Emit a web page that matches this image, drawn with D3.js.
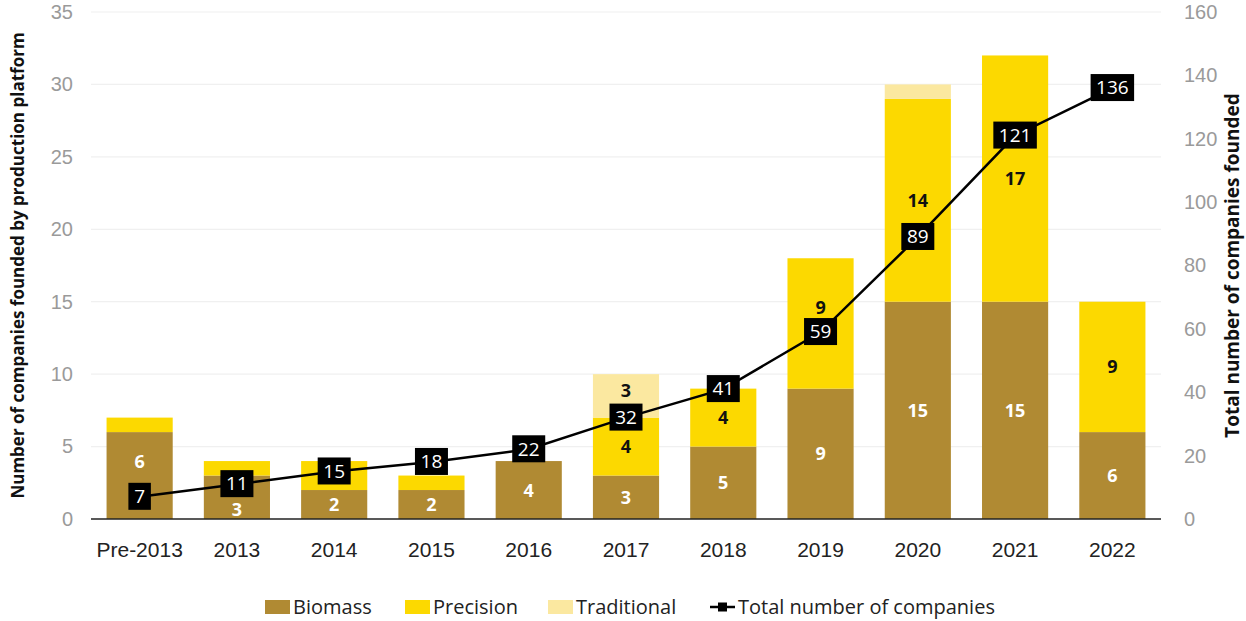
<!DOCTYPE html>
<html>
<head>
<meta charset="utf-8">
<script src="https://cdn.jsdelivr.net/npm/d3@7/dist/d3.min.js"></script>
<style>
  html, body { margin: 0; padding: 0; background: #fff; }
  svg { display: block; font-family: "Open Sans", "Noto Sans", sans-serif; }
</style>
</head>
<body>
<svg id="chart" width="1246" height="621"></svg>
<script>
// Companies founded per year, split by production platform
const categories = ["Pre-2013", "2013", "2014", "2015", "2016", "2017", "2018", "2019", "2020", "2021", "2022"];
const biomass     = [6, 3, 2, 2, 4, 3, 5, 9, 15, 15, 6];
const precision   = [1, 1, 2, 1, 0, 4, 4, 9, 14, 17, 9];
const traditional = [0, 0, 0, 0, 0, 3, 0, 0, 1, 0, 0];
const totalCompanies = [7, 11, 15, 18, 22, 32, 41, 59, 89, 121, 136];
const leftTicks  = [0, 5, 10, 15, 20, 25, 30, 35];
const rightTicks = [0, 20, 40, 60, 80, 100, 120, 140, 160];

const seriesDefs = [
  { key: "Biomass",     values: biomass,     color: "#b08a33", text: "#ffffff", minLabel: 2 },
  { key: "Precision",   values: precision,   color: "#fcd900", text: "#111111", minLabel: 4 },
  { key: "Traditional", values: traditional, color: "#fbe8a0", text: "#111111", minLabel: 3 }
];

// a few segment labels are shifted (px) so they stay clear of the total-line markers
const labelNudge = { "Biomass|Pre-2013": -14, "Biomass|2013": 12, "Precision|2019": -16, "Traditional|2017": -5 };

const svg = d3.select("#chart");
const margin = { left: 91, right: 85, top: 12, bottom: 102 };
const W = 1246, H = 621;
const innerRight = W - margin.right;
const innerBottom = H - margin.bottom;

const x = d3.scaleBand().domain(categories).range([margin.left, innerRight]).paddingInner(0.32).paddingOuter(0.16);
const yL = d3.scaleLinear().domain([0, 35]).range([innerBottom, margin.top]);
const yR = d3.scaleLinear().domain([0, 160]).range([innerBottom, margin.top]);

// gridlines
svg.append("g").selectAll("line").data(leftTicks.filter(d => d > 0)).join("line")
  .attr("x1", margin.left).attr("x2", innerRight)
  .attr("y1", d => yL(d)).attr("y2", d => yL(d))
  .attr("stroke", "#f0f0f0").attr("stroke-width", 1.2);

// left axis
const leftAxis = svg.append("g").attr("transform", `translate(${margin.left - 18},0)`)
  .call(d3.axisLeft(yL).tickValues(leftTicks).tickSize(0).tickPadding(0));
leftAxis.select(".domain").remove();
leftAxis.selectAll("text").attr("fill", "#9a9a9a").style("font-size", "20px");

// right axis
const rightAxis = svg.append("g").attr("transform", `translate(${innerRight + 23},0)`)
  .call(d3.axisRight(yR).tickValues(rightTicks).tickSize(0).tickPadding(0));
rightAxis.select(".domain").remove();
rightAxis.selectAll("text").attr("fill", "#9a9a9a").style("font-size", "20px");

// stacked bars
const rows = categories.map((c, i) => {
  const r = { cat: c };
  seriesDefs.forEach(s => r[s.key] = s.values[i]);
  return r;
});
const stacked = d3.stack().keys(seriesDefs.map(s => s.key))(rows);

stacked.forEach((layer, li) => {
  const def = seriesDefs[li];
  const g = svg.append("g");
  g.selectAll("rect").data(layer).join("rect")
    .attr("x", d => x(d.data.cat))
    .attr("width", x.bandwidth())
    .attr("y", d => yL(d[1]))
    .attr("height", d => yL(d[0]) - yL(d[1]))
    .attr("fill", def.color);
  g.selectAll("text").data(layer.filter(d => d[1] - d[0] >= def.minLabel)).join("text")
    .attr("x", d => x(d.data.cat) + x.bandwidth() / 2)
    .attr("y", d => yL((d[0] + d[1]) / 2) + (labelNudge[def.key + "|" + d.data.cat] || 0))
    .attr("dy", "0.36em")
    .attr("text-anchor", "middle")
    .attr("fill", def.text)
    .style("font-size", "18px").style("font-weight", "700")
    .text(d => d[1] - d[0]);
});

// baseline
svg.append("line").attr("x1", margin.left).attr("x2", innerRight)
  .attr("y1", innerBottom).attr("y2", innerBottom)
  .attr("stroke", "#222").attr("stroke-width", 1.5);

// category labels
const bottomAxis = svg.append("g").attr("transform", `translate(0,${innerBottom + 30})`)
  .call(d3.axisBottom(x).tickSize(0).tickPadding(0));
bottomAxis.select(".domain").remove();
bottomAxis.selectAll("text").attr("fill", "#222").style("font-size", "21px").attr("dy", "0.36em");

// cumulative total line
const line = d3.line().x((d, i) => x(categories[i]) + x.bandwidth() / 2).y(d => yR(d));
svg.append("path").datum(totalCompanies).attr("d", line)
  .attr("fill", "none").attr("stroke", "#000").attr("stroke-width", 2.5);

const boxW = d => String(d).length * 10.5 + 12;
const markers = svg.append("g").selectAll("g").data(totalCompanies).join("g")
  .attr("transform", (d, i) => `translate(${x(categories[i]) + x.bandwidth() / 2},${yR(d)})`);
markers.append("rect")
  .attr("x", d => -boxW(d) / 2)
  .attr("width", boxW)
  .attr("y", -14).attr("height", 27).attr("fill", "#000");
markers.append("text").attr("text-anchor", "middle").attr("dy", "0.33em")
  .attr("fill", "#fff").style("font-size", "19px")
  .text(d => d);

// axis titles
svg.append("text")
  .attr("transform", `translate(24,${(margin.top + innerBottom) / 2}) rotate(-90)`)
  .attr("text-anchor", "middle").attr("fill", "#111")
  .style("font-size", "17px").style("font-weight", "700")
  .text("Number of companies founded by production platform");
svg.append("text")
  .attr("transform", `translate(1239,${(margin.top + innerBottom) / 2}) rotate(-90)`)
  .attr("text-anchor", "middle").attr("fill", "#111")
  .style("font-size", "19px").style("font-weight", "700")
  .text("Total number of companies founded");

// legend
const legendItems = [
  { label: "Biomass", color: seriesDefs[0].color, x: 265 },
  { label: "Precision", color: seriesDefs[1].color, x: 405 },
  { label: "Traditional", color: seriesDefs[2].color, x: 548 },
  { label: "Total number of companies", line: true, x: 710 }
];
const legY = 607;
const leg = svg.append("g").selectAll("g").data(legendItems).join("g")
  .attr("transform", d => `translate(${d.x},${legY})`);
leg.filter(d => !d.line).append("rect")
  .attr("x", 0).attr("y", -7).attr("width", 25).attr("height", 14).attr("fill", d => d.color);
leg.filter(d => d.line).append("line")
  .attr("x1", 0).attr("x2", 25).attr("y1", 0).attr("y2", 0).attr("stroke", "#000").attr("stroke-width", 2.5);
leg.filter(d => d.line).append("rect")
  .attr("x", 8).attr("y", -4.5).attr("width", 9).attr("height", 9).attr("fill", "#000");
leg.append("text").attr("x", 28).attr("dy", "0.36em")
  .attr("fill", "#222").style("font-size", "20px")
  .text(d => d.label);
</script>
</body>
</html>
